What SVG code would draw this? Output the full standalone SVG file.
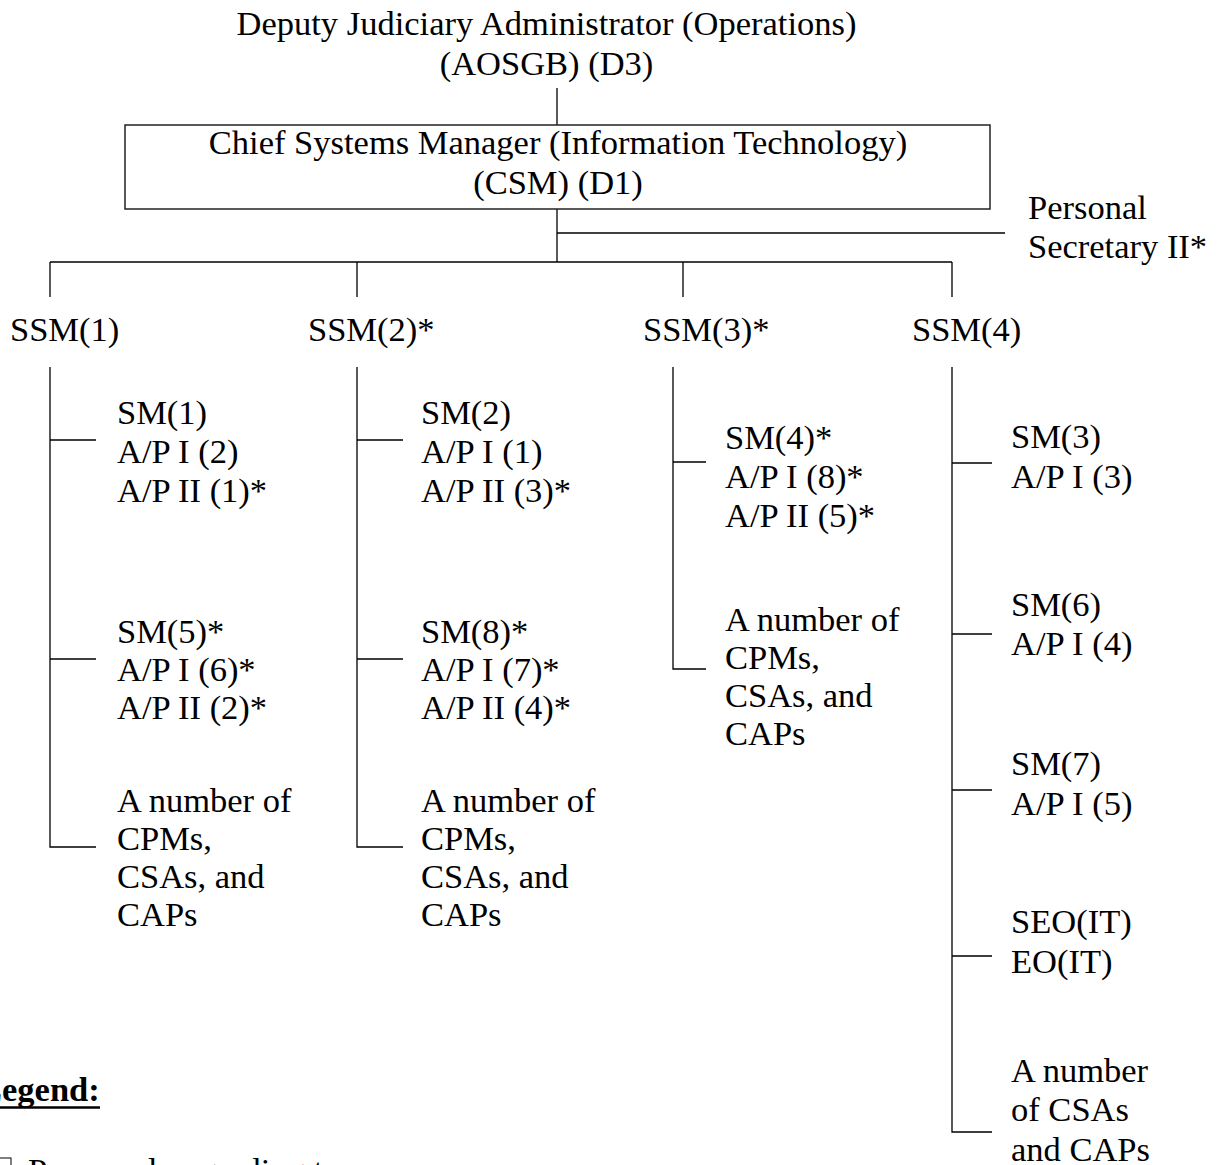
<svg xmlns="http://www.w3.org/2000/svg" width="1221" height="1165" viewBox="0 0 1221 1165">
  <style>
    text { font-family: "Liberation Serif", "Times New Roman", serif; font-size: 34.5px; fill: #000; }
    .mid { text-anchor: middle; }
    .bold { font-weight: bold; }
    .ln { stroke: #000; stroke-width: 1.3; fill: none; }
    .box { stroke: #222; stroke-width: 1.5; fill: #fff; }
  </style>
  <rect width="1221" height="1165" fill="#fff"/>

  <!-- connectors -->
  <g id="connectors" class="ln">
    <path d="M557 88V125"/>
    <path d="M557 209V262"/>
    <path d="M557 233H1005"/>
    <path d="M50 262H952"/>
    <path d="M50 262V297M357 262V297M683 262V297M952 262V297"/>
    <!-- SSM(1) branch -->
    <path d="M50 367V847H96M50 440H96M50 659H96"/>
    <!-- SSM(2) branch -->
    <path d="M357 367V847H403M357 440H403M357 659H403"/>
    <!-- SSM(3) branch -->
    <path d="M673 367V669H706M673 462H706"/>
    <!-- SSM(4) branch -->
    <path d="M952 367V1132H992M952 463H992M952 634H992M952 790H992M952 956H992"/>
  </g>

  <g id="dja">
    <text class="mid" x="546.5" y="35">Deputy Judiciary Administrator (Operations)</text>
    <text class="mid" x="546.5" y="75">(AOSGB) (D3)</text>
  </g>

  <g id="csm">
    <rect class="box" x="125" y="125" width="865" height="84"/>
    <text class="mid" x="558" y="154">Chief Systems Manager (Information Technology)</text>
    <text class="mid" x="558" y="194">(CSM) (D1)</text>
  </g>

  <g id="ps">
    <text x="1028" y="219">Personal</text>
    <text x="1028" y="258">Secretary II*</text>
  </g>

  <g id="ssm1"><text x="10" y="341">SSM(1)</text></g>
  <g id="ssm2"><text x="308" y="341">SSM(2)*</text></g>
  <g id="ssm3"><text x="643" y="341">SSM(3)*</text></g>
  <g id="ssm4"><text x="912" y="341">SSM(4)</text></g>

  <!-- teams under SSM(1) -->
  <g id="ssm1-team1">
    <text x="117" y="424">SM(1)</text>
    <text x="117" y="463">A/P I (2)</text>
    <text x="117" y="502">A/P II (1)*</text>
  </g>
  <g id="ssm1-team2">
    <text x="117" y="643">SM(5)*</text>
    <text x="117" y="681">A/P I (6)*</text>
    <text x="117" y="719">A/P II (2)*</text>
  </g>
  <g id="ssm1-staff">
    <text x="117" y="812">A number of</text>
    <text x="117" y="850">CPMs,</text>
    <text x="117" y="888">CSAs, and</text>
    <text x="117" y="926">CAPs</text>
  </g>

  <!-- teams under SSM(2) -->
  <g id="ssm2-team1">
    <text x="421" y="424">SM(2)</text>
    <text x="421" y="463">A/P I (1)</text>
    <text x="421" y="502">A/P II (3)*</text>
  </g>
  <g id="ssm2-team2">
    <text x="421" y="643">SM(8)*</text>
    <text x="421" y="681">A/P I (7)*</text>
    <text x="421" y="719">A/P II (4)*</text>
  </g>
  <g id="ssm2-staff">
    <text x="421" y="812">A number of</text>
    <text x="421" y="850">CPMs,</text>
    <text x="421" y="888">CSAs, and</text>
    <text x="421" y="926">CAPs</text>
  </g>

  <!-- teams under SSM(3) -->
  <g id="ssm3-team1">
    <text x="725" y="449">SM(4)*</text>
    <text x="725" y="488">A/P I (8)*</text>
    <text x="725" y="527">A/P II (5)*</text>
  </g>
  <g id="ssm3-staff">
    <text x="725" y="631">A number of</text>
    <text x="725" y="669">CPMs,</text>
    <text x="725" y="707">CSAs, and</text>
    <text x="725" y="745">CAPs</text>
  </g>

  <!-- teams under SSM(4) -->
  <g id="ssm4-team1">
    <text x="1011" y="448">SM(3)</text>
    <text x="1011" y="488">A/P I (3)</text>
  </g>
  <g id="ssm4-team2">
    <text x="1011" y="616">SM(6)</text>
    <text x="1011" y="655">A/P I (4)</text>
  </g>
  <g id="ssm4-team3">
    <text x="1011" y="775">SM(7)</text>
    <text x="1011" y="815">A/P I (5)</text>
  </g>
  <g id="ssm4-team4">
    <text x="1011" y="933">SEO(IT)</text>
    <text x="1011" y="973">EO(IT)</text>
  </g>
  <g id="ssm4-staff">
    <text x="1011" y="1082">A number</text>
    <text x="1011" y="1121">of CSAs</text>
    <text x="1011" y="1161">and CAPs</text>
  </g>

  <!-- key -->
  <g id="legend">
    <text class="bold" x="-21" y="1101">Legend:</text>
    <line x1="0" y1="1107.5" x2="100" y2="1107.5" stroke="#000" stroke-width="2.6"/>
    <rect x="-6" y="1158" width="17" height="20" fill="none" stroke="#000" stroke-width="1"/>
    <text x="28" y="1182">Proposed upgrading to</text>
  </g>
</svg>
